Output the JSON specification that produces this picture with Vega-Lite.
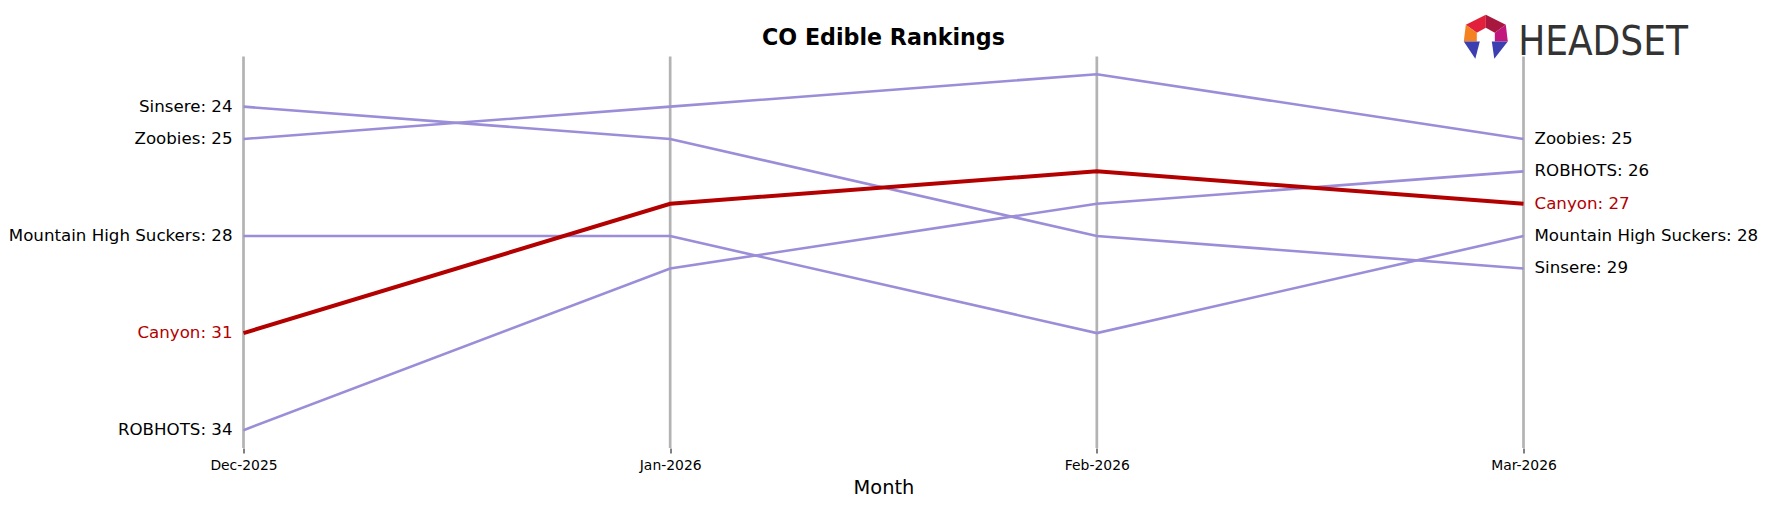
{
  "$schema": "https://vega.github.io/schema/vega-lite/v6.json",
  "width": 1280,
  "height": 391.5,
  "autosize": "none",
  "padding": {"left": 243.5, "top": 56.5, "right": 242.5, "bottom": 59},
  "background": "white",
  "config": {"view": {"stroke": null}, "font": "DejaVu Sans"},
  "title": {"text": "CO Edible Rankings", "fontSize": 22.2, "fontWeight": "bold", "font": "DejaVu Sans", "color": "black", "anchor": "middle", "offset": 6, "dy": 40},
  "datasets": {
    "ranks": [
      {"brand": "Sinsere", "month": "Dec-2025", "rank": 24},
      {"brand": "Sinsere", "month": "Jan-2026", "rank": 25},
      {"brand": "Sinsere", "month": "Feb-2026", "rank": 28},
      {"brand": "Sinsere", "month": "Mar-2026", "rank": 29},
      {"brand": "Zoobies", "month": "Dec-2025", "rank": 25},
      {"brand": "Zoobies", "month": "Jan-2026", "rank": 24},
      {"brand": "Zoobies", "month": "Feb-2026", "rank": 23},
      {"brand": "Zoobies", "month": "Mar-2026", "rank": 25},
      {"brand": "Mountain High Suckers", "month": "Dec-2025", "rank": 28},
      {"brand": "Mountain High Suckers", "month": "Jan-2026", "rank": 28},
      {"brand": "Mountain High Suckers", "month": "Feb-2026", "rank": 31},
      {"brand": "Mountain High Suckers", "month": "Mar-2026", "rank": 28},
      {"brand": "ROBHOTS", "month": "Dec-2025", "rank": 34},
      {"brand": "ROBHOTS", "month": "Jan-2026", "rank": 29},
      {"brand": "ROBHOTS", "month": "Feb-2026", "rank": 27},
      {"brand": "ROBHOTS", "month": "Mar-2026", "rank": 26},
      {"brand": "Canyon", "month": "Dec-2025", "rank": 31},
      {"brand": "Canyon", "month": "Jan-2026", "rank": 27},
      {"brand": "Canyon", "month": "Feb-2026", "rank": 26},
      {"brand": "Canyon", "month": "Mar-2026", "rank": 27}
    ],
    "logo": [
      {"piece": "top-left"},
      {"piece": "top-right"},
      {"piece": "left"},
      {"piece": "right"},
      {"piece": "bottom-left"},
      {"piece": "bottom-right"}
    ],
    "wordmark": [{"name": "HEADSET"}]
  },
  "encoding": {
    "x": {
      "field": "month",
      "type": "ordinal",
      "sort": ["Dec-2025", "Jan-2026", "Feb-2026", "Mar-2026"],
      "scale": {"type": "point", "padding": 0},
      "axis": {
        "title": "Month",
        "titleFontSize": 19.4,
        "titleFontWeight": "normal",
        "titleColor": "black",
        "titleFont": "DejaVu Sans",
        "titlePadding": 7,
        "labelAngle": 0,
        "labelFontSize": 13.9,
        "labelColor": "black",
        "labelFont": "DejaVu Sans",
        "labelPadding": 5,
        "domain": false,
        "grid": false,
        "ticks": true,
        "tickSize": 5,
        "tickColor": "black",
        "tickWidth": 1,
        "tickOffset": 0
      }
    }
  },
  "layer": [
    {
      "data": {"name": "ranks"},
      "transform": [{"filter": "datum.brand === 'Canyon'"}],
      "mark": {"type": "rule", "color": "#b3b3b3", "strokeWidth": 2.7}
    },
    {
      "data": {"name": "ranks"},
      "transform": [{"filter": "datum.brand !== 'Canyon'"}],
      "mark": {"type": "line", "color": "#9b8dd8", "strokeWidth": 2.6},
      "encoding": {
        "y": {"field": "rank", "type": "quantitative", "scale": {"domain": [22.45, 34.55], "reverse": true, "nice": false, "zero": false}, "axis": null},
        "detail": {"field": "brand"}
      }
    },
    {
      "data": {"name": "ranks"},
      "transform": [{"filter": "datum.brand === 'Canyon'"}],
      "mark": {"type": "line", "color": "#b30000", "strokeWidth": 4},
      "encoding": {
        "y": {"field": "rank", "type": "quantitative", "axis": null}
      }
    },
    {
      "data": {"name": "ranks"},
      "transform": [
        {"filter": "datum.month === 'Dec-2025'"},
        {"calculate": "datum.brand + ': ' + datum.rank", "as": "label"}
      ],
      "mark": {"type": "text", "align": "right", "baseline": "middle", "dx": -11, "fontSize": 16.67, "font": "DejaVu Sans"},
      "encoding": {
        "y": {"field": "rank", "type": "quantitative", "axis": null},
        "text": {"field": "label"},
        "color": {"condition": {"test": "datum.brand === 'Canyon'", "value": "#b30000"}, "value": "black"}
      }
    },
    {
      "data": {"name": "ranks"},
      "transform": [
        {"filter": "datum.month === 'Mar-2026'"},
        {"calculate": "datum.brand + ': ' + datum.rank", "as": "label"}
      ],
      "mark": {"type": "text", "align": "left", "baseline": "middle", "dx": 11, "fontSize": 16.67, "font": "DejaVu Sans"},
      "encoding": {
        "y": {"field": "rank", "type": "quantitative", "axis": null},
        "text": {"field": "label"},
        "color": {"condition": {"test": "datum.brand === 'Canyon'", "value": "#b30000"}, "value": "black"}
      }
    },
    {
      "data": {"name": "logo"},
      "mark": {"type": "point", "filled": true, "size": 4, "opacity": 1, "strokeWidth": 0},
      "encoding": {
        "x": {"datum": "Mar-2026", "type": "ordinal"},
        "y": {"datum": 21.84, "type": "quantitative", "axis": null},
        "shape": {
          "field": "piece",
          "type": "nominal",
          "legend": null,
          "scale": {
            "domain": ["top-left", "top-right", "left", "right", "bottom-left", "bottom-right"],
            "range": [
              "M-37.7,-22L-37.7,-9L-46.7,-4L-57.7,-12Z",
              "M-37.7,-22L-17.7,-12L-28.7,-4L-37.7,-9Z",
              "M-57.7,-12L-46.7,-4L-46.7,4.7L-59.7,4.7Z",
              "M-17.7,-12L-15.7,4.7L-28.7,4.7L-28.7,-4Z",
              "M-59.7,4.7L-43.7,4.7L-48.2,22Z",
              "M-15.7,4.7L-31.7,4.7L-29.2,22Z"
            ]
          }
        },
        "color": {
          "field": "piece",
          "type": "nominal",
          "legend": null,
          "scale": {
            "domain": ["top-left", "top-right", "left", "right", "bottom-left", "bottom-right"],
            "range": ["#e3203b", "#a8173e", "#f58220", "#c2177d", "#3c3fb0", "#3c3fb0"]
          }
        }
      }
    },
    {
      "data": {"name": "wordmark"},
      "mark": {"type": "text", "align": "left", "baseline": "alphabetic", "dx": -5.3, "fontSize": 40, "font": "Liberation Sans Narrow, DejaVu Sans Condensed, sans-serif", "color": "#333333"},
      "encoding": {
        "x": {"datum": "Mar-2026", "type": "ordinal"},
        "y": {"datum": 22.394, "type": "quantitative", "axis": null},
        "text": {"field": "name"}
      }
    }
  ]
}
